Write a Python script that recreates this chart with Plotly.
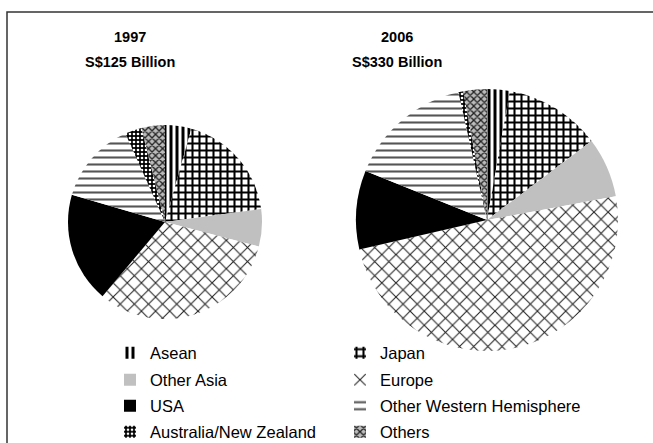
import plotly.graph_objects as go

W, H = 653, 443

labels = ["Asean", "Japan", "Other Asia", "Europe", "USA",
          "Other Western Hemisphere", "Australia/New Zealand", "Others"]
values_1997 = [4.4, 18.5, 6.2, 32.1, 18.4, 13.8, 2.8, 3.9]
values_2006 = [2.8, 11.9, 7.4, 49.3, 9.7, 15.4, 0.6, 2.9]
years = ["1997", "2006"]
totals = ["S$125 Billion", "S$330 Billion"]

shapes_pat = ["|", "+", "", "x", "", "-", ".", "x"]
fg = ["black", "black", "#c0c0c0", "#222222", "black", "#555555", "white", "#222222"]
bg = ["white", "white", "#c0c0c0", "white", "black", "white", "black", "#bbbbbb"]
sizes = [6, 7, 8, 10, 8, 7, 4, 5]
solid = [0.5, 0.5, 0.5, 0.2, 0.5, 0.3, 0.35, 0.45]


def px_x(x):
    return x / W


def px_y(y):
    return 1 - y / H


def marker(idx):
    return dict(
        colors=[bg[i] for i in idx],
        line=dict(width=0),
        pattern=dict(shape=[shapes_pat[i] for i in idx],
                     fgcolor=[fg[i] for i in idx],
                     bgcolor=[bg[i] for i in idx],
                     size=[sizes[i] for i in idx],
                     solidity=[solid[i] for i in idx],
                     fillmode="replace"),
    )


fig = go.Figure()

# legend-only helper pies (one per legend entry), hidden beneath the main pie
col_x = [110, 340]
row_y = [353, 380, 406, 432]
lfont = dict(size=16.5, color="black", family="Liberation Sans, Arial")
layout_legends = {}
for i, lab in enumerate(labels):
    key = "legend" if i == 0 else "legend%d" % (i + 1)
    fig.add_trace(go.Pie(
        labels=[lab], values=[1], sort=False, textinfo="none", hoverinfo="skip",
        marker=marker([i]), showlegend=True, legend=key,
        domain=dict(x=[px_x(485), px_x(489)], y=[px_y(232), px_y(228)]),
    ))
    layout_legends[key] = dict(
        orientation="v", x=px_x(col_x[i % 2]), y=px_y(row_y[i // 2]),
        xanchor="left", yanchor="middle", font=lfont, bgcolor="rgba(0,0,0,0)",
    )

all_idx = list(range(len(labels)))
fig.add_trace(go.Pie(
    labels=labels, values=values_1997, sort=False, direction="clockwise",
    rotation=0, textinfo="none", hoverinfo="label+percent", marker=marker(all_idx),
    showlegend=False,
    domain=dict(x=[px_x(68), px_x(262)], y=[px_y(319), px_y(125)]),
))
fig.add_trace(go.Pie(
    labels=labels, values=values_2006, sort=False, direction="clockwise",
    rotation=0, textinfo="none", hoverinfo="label+percent", marker=marker(all_idx),
    showlegend=False,
    domain=dict(x=[px_x(356), px_x(618)], y=[px_y(351), px_y(89)]),
))

tfont = dict(family="Liberation Sans, Arial", size=14.5, color="black")
for yr, tot, cx in zip(years, totals, [130, 397]):
    fig.add_annotation(text="<b>" + yr + "</b>", x=px_x(cx), y=px_y(37),
                       xref="paper", yref="paper", showarrow=False, font=tfont,
                       xanchor="center", yanchor="middle")
    fig.add_annotation(text="<b>" + tot + "</b>", x=px_x(cx), y=px_y(62),
                       xref="paper", yref="paper", showarrow=False, font=tfont,
                       xanchor="center", yanchor="middle")

fig.add_shape(type="rect", xref="paper", yref="paper",
              x0=px_x(7), x1=px_x(700), y0=px_y(500), y1=px_y(12),
              line=dict(color="#333333", width=1.5), fillcolor="rgba(0,0,0,0)")

fig.update_layout(
    width=W, height=H,
    margin=dict(l=0, r=0, t=0, b=0, autoexpand=False),
    paper_bgcolor="white", plot_bgcolor="white",
    font=dict(family="Liberation Sans, Arial", color="black"),
    showlegend=True,
    **layout_legends,
)

fig.write_html("out.html")
